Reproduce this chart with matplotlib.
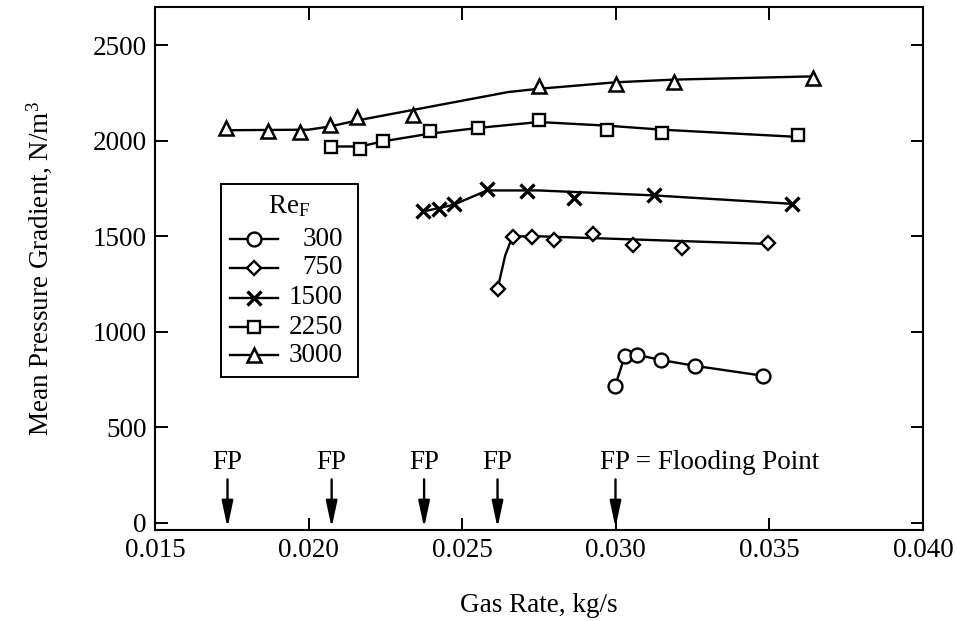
import matplotlib
matplotlib.use("Agg")
import matplotlib.pyplot as plt

plt.rcParams['font.family'] = ['Liberation Serif', 'DejaVu Serif']
plt.rcParams['mathtext.fontset'] = 'custom'
plt.rcParams['mathtext.rm'] = 'Liberation Serif'
plt.rcParams['mathtext.it'] = 'Liberation Serif:italic'
plt.rcParams['font.size'] = 19.5

# ---- data (markers) ----
re_labels = ['300', '750', '1500', '2250', '3000']

x300 = [0.02997, 0.03030, 0.03068, 0.03146, 0.03258, 0.03480]
y300 = [714, 876, 880, 853, 822, 770]

x750 = [0.02615, 0.02664, 0.02727, 0.02798, 0.02925, 0.03056, 0.03215, 0.03496]
y750 = [1224, 1494, 1494, 1482, 1513, 1452, 1438, 1464]

x1500 = [0.02374, 0.02423, 0.02472, 0.02581, 0.02711, 0.02863, 0.03124, 0.03572]
y1500 = [1635, 1642, 1669, 1747, 1735, 1700, 1714, 1670]

x2250 = [0.02073, 0.02168, 0.02242, 0.02394, 0.02551, 0.02749, 0.02972, 0.03151, 0.03594]
y2250 = [1967, 1958, 1997, 2049, 2067, 2110, 2058, 2040, 2032]

x3000 = [0.01731, 0.01869, 0.01972, 0.02070, 0.02157, 0.02341, 0.02749, 0.03000, 0.03190, 0.03643]
y3000 = [2067, 2049, 2046, 2080, 2124, 2136, 2288, 2299, 2307, 2328]

# ---- data (fitted curves as drawn) ----
fx300 = [0.02997, 0.03030, 0.03068, 0.03146, 0.03258, 0.03480]
fy300 = [714, 876, 880, 853, 822, 770]

fx750 = [0.02615, 0.02640, 0.02664, 0.02750, 0.03496]
fy750 = [1224, 1400, 1500, 1500, 1460]

fx1500 = [0.02374, 0.02472, 0.02581, 0.02749, 0.03124, 0.03572]
fy1500 = [1630, 1665, 1740, 1740, 1714, 1670]

fx2250 = [0.02073, 0.02168, 0.02242, 0.02394, 0.02551, 0.02749, 0.02972, 0.03151, 0.03594]
fy2250 = [1970, 1970, 1997, 2037, 2067, 2098, 2079, 2058, 2020]

fx3000 = [0.01731, 0.02000, 0.02070, 0.02160, 0.02650, 0.02749, 0.03000, 0.03190, 0.03643]
fy3000 = [2055, 2058, 2075, 2107, 2255, 2272, 2306, 2320, 2337]

# flooding points
fp_x = [0.01736, 0.02075, 0.02376, 0.02615, 0.02999]

xticks = [0.015, 0.020, 0.025, 0.030, 0.035, 0.040]
xticklabels = ['0.015', '0.020', '0.025', '0.030', '0.035', '0.040']
yticks = [0, 500, 1000, 1500, 2000, 2500]

fig = plt.figure(figsize=(9.57, 6.21), dpi=100)
ax = fig.add_axes([155/957, 1-530/621, (923-155)/957, (530-7)/621])

series = [
    (x300, y300, fx300, fy300, 'o', 10, 1.7),
    (x750, y750, fx750, fy750, 'D', 7.5, 1.7),
    (x1500, y1500, fx1500, fy1500, 'x', 10, 2.4),
    (x2250, y2250, fx2250, fy2250, 's', 9, 1.7),
    (x3000, y3000, fx3000, fy3000, '^', 9.5, 1.8),
]
for xs, ys, fxs, fys, m, ms, mew in series:
    ax.plot(fxs, fys, '-', color='black', lw=1.7, zorder=2)
    ax.plot(xs, ys, linestyle='none', marker=m, ms=ms, mew=mew,
            mfc='white', mec='black', zorder=3)

ax.set_xlim(0.015, 0.040)
ax.set_ylim(-37, 2700)
ax.set_xticks(xticks)
ax.set_xticklabels(xticklabels)
ax.set_yticks(yticks)
ax.tick_params(direction='in', length=9, width=1.4, top=True, right=True, pad=6)
for s in ax.spines.values():
    s.set_linewidth(1.5)

ax.set_xlabel('Gas Rate, kg/s', labelpad=21)
ax.set_ylabel('Mean Pressure Gradient, N/m$^3$', labelpad=28)

# Flooding point arrows
for fx in fp_x:
    ax.annotate('', xy=(fx, -25), xytext=(fx, 228),
                arrowprops=dict(arrowstyle='-|>,head_length=0.8,head_width=0.17',
                                lw=1.7, color='black', shrinkA=0, shrinkB=0,
                                mutation_scale=20))
for fx in fp_x[:-1]:
    ax.text(fx, 318, 'FP', ha='center', va='center')
ax.text(fp_x[-1] - 0.00052, 318, 'FP = Flooding Point', ha='left', va='center')

# Legend (manual box)
x0, x1 = 0.086, 0.264
yt, yb = 0.662, 0.2925
ax.add_patch(plt.Rectangle((x0, yb), x1 - x0, yt - yb, transform=ax.transAxes,
                           fill=True, facecolor='white', edgecolor='black', lw=1.4, zorder=4))
ax.text((x0 + x1) / 2, (530 - 206) / 523, r'Re$_\mathrm{F}$', transform=ax.transAxes,
        ha='center', va='center', zorder=5)
row_px = [239, 268, 298, 327, 355]
for (xs, ys, fxs, fys, m, ms, mew), lab, rp in zip(series, re_labels, row_px):
    yy = (530 - rp) / 523
    hx0 = (230 - 155) / 768
    hx1 = (278 - 155) / 768
    ax.plot([hx0, hx1], [yy, yy], '-', color='black', lw=1.7, transform=ax.transAxes, zorder=5)
    ax.plot([(hx0 + hx1) / 2], [yy], marker=m, ms=ms, mew=mew, mfc='white', mec='black',
            transform=ax.transAxes, zorder=6, linestyle='none')
    ax.text((343 - 155) / 768, yy, lab, transform=ax.transAxes, ha='right', va='center', zorder=6)

fig.savefig('out.png', dpi=100)
